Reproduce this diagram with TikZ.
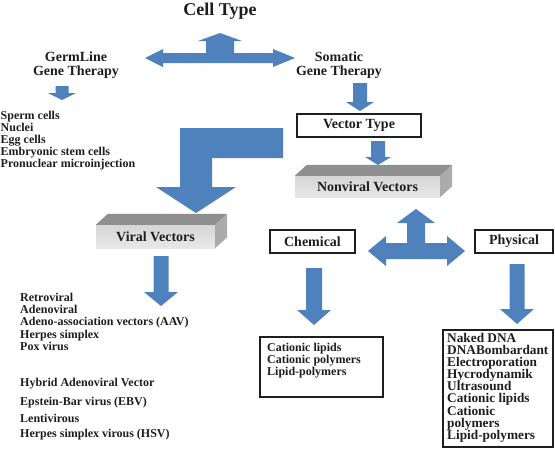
\documentclass[tikz,border=0pt]{standalone}
\usepackage{fontspec}
\setmainfont{Liberation Serif}
\definecolor{arrblue}{HTML}{4F81BD}
\definecolor{txt}{HTML}{1E1E1E}
\definecolor{cubetop}{HTML}{8F8F8F}
\definecolor{cubeside}{HTML}{ABABAB}
\begin{document}
\begin{tikzpicture}[x=1pt,y=-1pt,
    arr/.style={fill=arrblue},
    head/.style={font=\fontsize{14}{14}\selectfont\bfseries,text=txt,align=center,inner sep=0pt},
    item/.style={font=\fontsize{12}{12}\selectfont\bfseries,text=txt,anchor=mid west,inner sep=0pt},
    plainbox/.style={draw=txt,line width=1.1pt,fill=white},
    cubefront/.style={top color=gray!32,bottom color=gray!18,draw=none}]
\useasboundingbox (0,0) rectangle (555,451);
\node[head,font=\fontsize{18}{18}\selectfont\bfseries] (cell) at (220,11) {Cell Type};
\fill[arr] (145,58) -- (163,49) -- (163,53) -- (206,53) -- (206,41) -- (198,41) -- (220,33) -- (242,41) -- (234,41) -- (234,53) -- (273,53) -- (273,49) -- (295,58) -- (273,67) -- (273,63) -- (163,63) -- (163,67) -- cycle;
\node[head] (germ) at (76,65) {GermLine\\Gene Therapy};
\node[head] (soma) at (339,65) {Somatic\\Gene Therapy};
\foreach \x/\ya/\yb/\yc/\w/\h in {62/86/93/100/6.5/14,360/83/102/111/7/14,378/141/157/165/7/13,161/256/292/306/7.5/17,314/268/310/325/8/17,517/264/309/324/7.5/17}
    \fill[arr] (\x-\w,\ya) -- (\x+\w,\ya) -- (\x+\w,\yb) -- (\x+\h,\yb) -- (\x,\yc) -- (\x-\h,\yb) -- (\x-\w,\yb) -- cycle;
\node[plainbox,head,minimum width=124pt,minimum height=23pt] (vtype) at (359,125.5) {Vector Type};
\foreach \t [count=\i] in {Sperm cells,Nuclei,Egg cells,Embryonic stem cells,Pronuclear microinjection}
    \node[item] (germ\i) at (0.5,105+12*\i) {\t};
\fill[arr] (180,128) -- (283,128) -- (283,158) -- (212,158) -- (212,187) -- (236,187) -- (196,213) -- (156,187) -- (180,187) -- cycle;
\node[cubefront,head,minimum width=119pt,minimum height=23pt] (viral) at (155.5,236.5) {Viral Vectors};
\node[cubefront,head,minimum width=145pt,minimum height=21pt] (nonviral) at (367.5,186.5) {Nonviral Vectors};
\foreach \n in {viral,nonviral}{
    \fill[cubetop] (\n.north west) -- ([shift={(12,-11)}]\n.north west) -- ([shift={(12,-11)}]\n.north east) -- (\n.north east) -- cycle;
    \fill[cubeside] (\n.north east) -- ([shift={(12,-11)}]\n.north east) -- ([shift={(12,-11)}]\n.south east) -- (\n.south east) -- cycle;
}
\fill[arr] (368,251) -- (386,236) -- (386,243) -- (407,243) -- (407,223) -- (397,223) -- (416,209) -- (435,223) -- (425,223) -- (425,243) -- (447,243) -- (447,236) -- (465,251) -- (447,266) -- (447,259) -- (386,259) -- (386,266) -- cycle;
\node[plainbox,head,minimum width=85pt,minimum height=23pt] (chem) at (312.5,241.5) {Chemical};
\node[plainbox,head,minimum width=78pt,minimum height=23pt] (phys) at (514,241.5) {Physical};
\foreach \t/\y [count=\i] in {Retroviral/299,Adenoviral/311,Adeno-association vectors (AAV)/323,Herpes simplex/336,Pox virus/348,Hybrid Adenoviral Vector/384,Epstein-Bar virus (EBV)/403,Lentivirous/420,Herpes simplex virous (HSV)/435}
    \node[item] (vir\i) at (20,\y) {\t};
\node[plainbox,minimum width=123pt,minimum height=60pt] (chemlist) at (321.5,367) {};
\foreach \t [count=\i] in {Cationic lipids,Cationic polymers,Lipid-polymers}
    \node[item] (chem\i) at (267,337+12*\i) {\t};
\node[plainbox,minimum width=110pt,minimum height=117pt] (physlist) at (498,388.5) {};
\foreach \t [count=\i] in {Naked DNA,DNABombardant,Electroporation,Hycrodynamik,Ultrasound,Cationic lipids,Cationic,polymers,Lipid-polymers}
    \node[item,font=\fontsize{13.3}{12}\selectfont\bfseries] (phys\i) at (447,328+12.1*\i) {\t};
\end{tikzpicture}
\end{document}
